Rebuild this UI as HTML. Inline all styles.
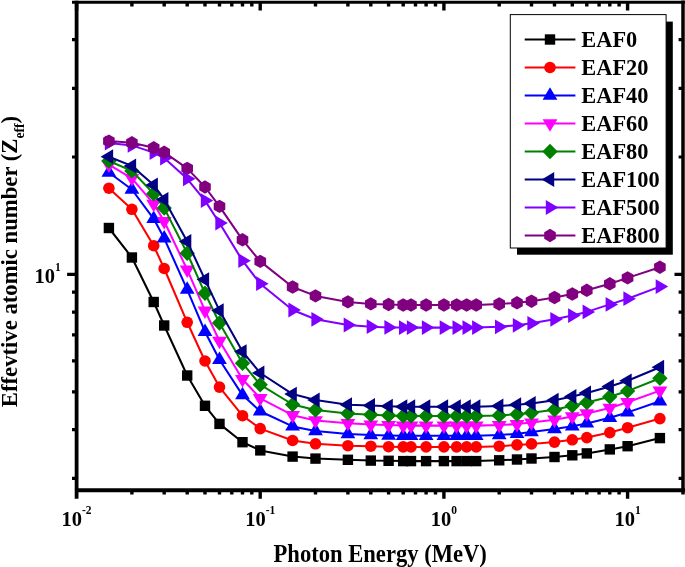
<!DOCTYPE html>
<html><head><meta charset="utf-8"><title>Effective atomic number vs photon energy</title>
<style>html,body{margin:0;padding:0;background:#fff}svg{display:block}</style>
</head><body>
<svg width="685" height="567" viewBox="0 0 685 567" font-family="'Liberation Serif', serif" font-weight="bold">
<rect width="685" height="567" fill="#fff"/>
<g><polyline points="108.9,228 131.9,257.5 153.7,302 164.2,325.5 187.2,375.5 205,405.8 219.5,423.9 242.5,442.2 260.2,450.4 292.6,456.6 315.5,458.6 347.9,459.8 370.8,460.6 388.6,460.8 403.2,461.1 411,461.1 426.1,461.1 443.9,461.1 456.6,461.1 466.6,461.1 476.2,461.1 499.2,460.3 517,459.5 531.5,458.5 554.5,457 572.3,455.3 586.8,453.4 609.8,449.4 627.6,446.2 659.9,438.1" fill="none" stroke="#000000" stroke-width="2.05" stroke-linejoin="round"/>
<rect x="103.7" y="222.8" width="10.4" height="10.4" fill="#000000"/>
<rect x="126.7" y="252.3" width="10.4" height="10.4" fill="#000000"/>
<rect x="148.5" y="296.8" width="10.4" height="10.4" fill="#000000"/>
<rect x="159" y="320.3" width="10.4" height="10.4" fill="#000000"/>
<rect x="182" y="370.3" width="10.4" height="10.4" fill="#000000"/>
<rect x="199.8" y="400.6" width="10.4" height="10.4" fill="#000000"/>
<rect x="214.3" y="418.7" width="10.4" height="10.4" fill="#000000"/>
<rect x="237.3" y="437" width="10.4" height="10.4" fill="#000000"/>
<rect x="255.1" y="445.2" width="10.4" height="10.4" fill="#000000"/>
<rect x="287.4" y="451.4" width="10.4" height="10.4" fill="#000000"/>
<rect x="310.3" y="453.4" width="10.4" height="10.4" fill="#000000"/>
<rect x="342.7" y="454.6" width="10.4" height="10.4" fill="#000000"/>
<rect x="365.6" y="455.4" width="10.4" height="10.4" fill="#000000"/>
<rect x="383.4" y="455.6" width="10.4" height="10.4" fill="#000000"/>
<rect x="398" y="455.9" width="10.4" height="10.4" fill="#000000"/>
<rect x="405.8" y="455.9" width="10.4" height="10.4" fill="#000000"/>
<rect x="420.9" y="455.9" width="10.4" height="10.4" fill="#000000"/>
<rect x="438.7" y="455.9" width="10.4" height="10.4" fill="#000000"/>
<rect x="451.4" y="455.9" width="10.4" height="10.4" fill="#000000"/>
<rect x="461.4" y="455.9" width="10.4" height="10.4" fill="#000000"/>
<rect x="471" y="455.9" width="10.4" height="10.4" fill="#000000"/>
<rect x="494" y="455.1" width="10.4" height="10.4" fill="#000000"/>
<rect x="511.8" y="454.3" width="10.4" height="10.4" fill="#000000"/>
<rect x="526.3" y="453.3" width="10.4" height="10.4" fill="#000000"/>
<rect x="549.3" y="451.8" width="10.4" height="10.4" fill="#000000"/>
<rect x="567.1" y="450.1" width="10.4" height="10.4" fill="#000000"/>
<rect x="581.6" y="448.2" width="10.4" height="10.4" fill="#000000"/>
<rect x="604.6" y="444.2" width="10.4" height="10.4" fill="#000000"/>
<rect x="622.4" y="441" width="10.4" height="10.4" fill="#000000"/>
<rect x="654.7" y="432.9" width="10.4" height="10.4" fill="#000000"/>
</g>
<g><polyline points="108.9,188.2 131.9,209.3 153.7,245.7 164.2,268.5 187.2,322.3 205,361 219.5,387.1 242.5,415.7 260.2,428.6 292.6,440.5 315.5,443.8 347.9,445.7 370.8,446.2 388.6,446.7 403.2,446.9 411,446.9 426.1,446.9 443.9,446.9 456.6,446.9 466.6,446.9 476.2,446.9 499.2,446.2 517,444.9 531.5,443.9 554.5,442.1 572.3,439.8 586.8,437.6 609.8,432.6 627.6,427.7 659.9,418.6" fill="none" stroke="#ff0000" stroke-width="2.05" stroke-linejoin="round"/>
<circle cx="108.9" cy="188.2" r="5.8" fill="#ff0000"/>
<circle cx="131.9" cy="209.3" r="5.8" fill="#ff0000"/>
<circle cx="153.7" cy="245.7" r="5.8" fill="#ff0000"/>
<circle cx="164.2" cy="268.5" r="5.8" fill="#ff0000"/>
<circle cx="187.2" cy="322.3" r="5.8" fill="#ff0000"/>
<circle cx="205" cy="361" r="5.8" fill="#ff0000"/>
<circle cx="219.5" cy="387.1" r="5.8" fill="#ff0000"/>
<circle cx="242.5" cy="415.7" r="5.8" fill="#ff0000"/>
<circle cx="260.2" cy="428.6" r="5.8" fill="#ff0000"/>
<circle cx="292.6" cy="440.5" r="5.8" fill="#ff0000"/>
<circle cx="315.5" cy="443.8" r="5.8" fill="#ff0000"/>
<circle cx="347.9" cy="445.7" r="5.8" fill="#ff0000"/>
<circle cx="370.8" cy="446.2" r="5.8" fill="#ff0000"/>
<circle cx="388.6" cy="446.7" r="5.8" fill="#ff0000"/>
<circle cx="403.2" cy="446.9" r="5.8" fill="#ff0000"/>
<circle cx="411" cy="446.9" r="5.8" fill="#ff0000"/>
<circle cx="426.1" cy="446.9" r="5.8" fill="#ff0000"/>
<circle cx="443.9" cy="446.9" r="5.8" fill="#ff0000"/>
<circle cx="456.6" cy="446.9" r="5.8" fill="#ff0000"/>
<circle cx="466.6" cy="446.9" r="5.8" fill="#ff0000"/>
<circle cx="476.2" cy="446.9" r="5.8" fill="#ff0000"/>
<circle cx="499.2" cy="446.2" r="5.8" fill="#ff0000"/>
<circle cx="517" cy="444.9" r="5.8" fill="#ff0000"/>
<circle cx="531.5" cy="443.9" r="5.8" fill="#ff0000"/>
<circle cx="554.5" cy="442.1" r="5.8" fill="#ff0000"/>
<circle cx="572.3" cy="439.8" r="5.8" fill="#ff0000"/>
<circle cx="586.8" cy="437.6" r="5.8" fill="#ff0000"/>
<circle cx="609.8" cy="432.6" r="5.8" fill="#ff0000"/>
<circle cx="627.6" cy="427.7" r="5.8" fill="#ff0000"/>
<circle cx="659.9" cy="418.6" r="5.8" fill="#ff0000"/>
</g>
<g><polyline points="108.9,172.5 131.9,189.5 153.7,218.8 164.2,238.3 187.2,289.6 205,331.7 219.5,359.7 242.5,395.1 260.2,411.2 292.6,426.4 315.5,431 347.9,434 370.8,435 388.6,435.5 403.2,435.8 411,435.8 426.1,435.8 443.9,435.8 456.6,435.8 466.6,435.8 476.2,435.8 499.2,435 517,433.8 531.5,432 554.5,429 572.3,426.3 586.8,423.4 609.8,417.8 627.6,412.4 659.9,401.3" fill="none" stroke="#0000ff" stroke-width="2.05" stroke-linejoin="round"/>
<polygon points="108.9,164.2 116.3,176.7 101.5,176.7" fill="#0000ff"/>
<polygon points="131.9,181.2 139.3,193.7 124.5,193.7" fill="#0000ff"/>
<polygon points="153.7,210.5 161.1,223 146.3,223" fill="#0000ff"/>
<polygon points="164.2,230 171.6,242.5 156.8,242.5" fill="#0000ff"/>
<polygon points="187.2,281.3 194.6,293.8 179.8,293.8" fill="#0000ff"/>
<polygon points="205,323.4 212.4,335.9 197.6,335.9" fill="#0000ff"/>
<polygon points="219.5,351.4 226.9,363.9 212.1,363.9" fill="#0000ff"/>
<polygon points="242.5,386.8 249.9,399.3 235.1,399.3" fill="#0000ff"/>
<polygon points="260.2,402.9 267.6,415.4 252.8,415.4" fill="#0000ff"/>
<polygon points="292.6,418.1 300,430.6 285.2,430.6" fill="#0000ff"/>
<polygon points="315.5,422.7 322.9,435.2 308.1,435.2" fill="#0000ff"/>
<polygon points="347.9,425.7 355.3,438.2 340.5,438.2" fill="#0000ff"/>
<polygon points="370.8,426.7 378.2,439.2 363.4,439.2" fill="#0000ff"/>
<polygon points="388.6,427.2 396,439.7 381.2,439.7" fill="#0000ff"/>
<polygon points="403.2,427.5 410.6,440 395.8,440" fill="#0000ff"/>
<polygon points="411,427.5 418.4,440 403.6,440" fill="#0000ff"/>
<polygon points="426.1,427.5 433.5,440 418.7,440" fill="#0000ff"/>
<polygon points="443.9,427.5 451.3,440 436.5,440" fill="#0000ff"/>
<polygon points="456.6,427.5 464,440 449.2,440" fill="#0000ff"/>
<polygon points="466.6,427.5 474,440 459.2,440" fill="#0000ff"/>
<polygon points="476.2,427.5 483.6,440 468.8,440" fill="#0000ff"/>
<polygon points="499.2,426.7 506.6,439.2 491.8,439.2" fill="#0000ff"/>
<polygon points="517,425.5 524.4,438 509.6,438" fill="#0000ff"/>
<polygon points="531.5,423.7 538.9,436.2 524.1,436.2" fill="#0000ff"/>
<polygon points="554.5,420.7 561.9,433.2 547.1,433.2" fill="#0000ff"/>
<polygon points="572.3,418 579.7,430.5 564.9,430.5" fill="#0000ff"/>
<polygon points="586.8,415.1 594.2,427.6 579.4,427.6" fill="#0000ff"/>
<polygon points="609.8,409.5 617.2,422 602.4,422" fill="#0000ff"/>
<polygon points="627.6,404.1 635,416.6 620.2,416.6" fill="#0000ff"/>
<polygon points="659.9,393 667.3,405.5 652.5,405.5" fill="#0000ff"/>
</g>
<g><polyline points="108.9,164.7 131.9,178.3 153.7,203.9 164.2,221.2 187.2,269.7 205,310.6 219.5,341 242.5,379.2 260.2,398.3 292.6,415.2 315.5,420.5 347.9,423.3 370.8,424.6 388.6,425.1 403.2,425.6 411,425.6 426.1,425.6 443.9,425.6 456.6,425.6 466.6,425.6 476.2,425.6 499.2,425.1 517,424.1 531.5,422.6 554.5,419.7 572.3,416.5 586.8,413.5 609.8,407.9 627.6,402.3 659.9,390.6" fill="none" stroke="#ff00ff" stroke-width="2.05" stroke-linejoin="round"/>
<polygon points="108.9,173 116.3,160.5 101.5,160.5" fill="#ff00ff"/>
<polygon points="131.9,186.6 139.3,174.1 124.5,174.1" fill="#ff00ff"/>
<polygon points="153.7,212.2 161.1,199.7 146.3,199.7" fill="#ff00ff"/>
<polygon points="164.2,229.5 171.6,217 156.8,217" fill="#ff00ff"/>
<polygon points="187.2,278 194.6,265.5 179.8,265.5" fill="#ff00ff"/>
<polygon points="205,318.9 212.4,306.4 197.6,306.4" fill="#ff00ff"/>
<polygon points="219.5,349.3 226.9,336.8 212.1,336.8" fill="#ff00ff"/>
<polygon points="242.5,387.5 249.9,375 235.1,375" fill="#ff00ff"/>
<polygon points="260.2,406.6 267.6,394.1 252.8,394.1" fill="#ff00ff"/>
<polygon points="292.6,423.5 300,411 285.2,411" fill="#ff00ff"/>
<polygon points="315.5,428.8 322.9,416.3 308.1,416.3" fill="#ff00ff"/>
<polygon points="347.9,431.6 355.3,419.1 340.5,419.1" fill="#ff00ff"/>
<polygon points="370.8,432.9 378.2,420.4 363.4,420.4" fill="#ff00ff"/>
<polygon points="388.6,433.4 396,420.9 381.2,420.9" fill="#ff00ff"/>
<polygon points="403.2,433.9 410.6,421.4 395.8,421.4" fill="#ff00ff"/>
<polygon points="411,433.9 418.4,421.4 403.6,421.4" fill="#ff00ff"/>
<polygon points="426.1,433.9 433.5,421.4 418.7,421.4" fill="#ff00ff"/>
<polygon points="443.9,433.9 451.3,421.4 436.5,421.4" fill="#ff00ff"/>
<polygon points="456.6,433.9 464,421.4 449.2,421.4" fill="#ff00ff"/>
<polygon points="466.6,433.9 474,421.4 459.2,421.4" fill="#ff00ff"/>
<polygon points="476.2,433.9 483.6,421.4 468.8,421.4" fill="#ff00ff"/>
<polygon points="499.2,433.4 506.6,420.9 491.8,420.9" fill="#ff00ff"/>
<polygon points="517,432.4 524.4,419.9 509.6,419.9" fill="#ff00ff"/>
<polygon points="531.5,430.9 538.9,418.4 524.1,418.4" fill="#ff00ff"/>
<polygon points="554.5,428 561.9,415.5 547.1,415.5" fill="#ff00ff"/>
<polygon points="572.3,424.8 579.7,412.3 564.9,412.3" fill="#ff00ff"/>
<polygon points="586.8,421.8 594.2,409.3 579.4,409.3" fill="#ff00ff"/>
<polygon points="609.8,416.2 617.2,403.7 602.4,403.7" fill="#ff00ff"/>
<polygon points="627.6,410.6 635,398.1 620.2,398.1" fill="#ff00ff"/>
<polygon points="659.9,398.9 667.3,386.4 652.5,386.4" fill="#ff00ff"/>
</g>
<g><polyline points="108.9,161 131.9,170.9 153.7,193.7 164.2,208.1 187.2,253.2 205,293.3 219.5,323 242.5,363.2 260.2,384.7 292.6,404.5 315.5,410 347.9,413.4 370.8,414.7 388.6,415.4 403.2,416 411,416 426.1,416 443.9,416 456.6,416 466.6,416 476.2,416 499.2,415.4 517,414.2 531.5,412.7 554.5,409.8 572.3,405.7 586.8,402.6 609.8,396.8 627.6,391.1 659.9,378.3" fill="none" stroke="#008000" stroke-width="2.05" stroke-linejoin="round"/>
<polygon points="108.9,153.3 116.6,161 108.9,168.7 101.2,161" fill="#008000"/>
<polygon points="131.9,163.2 139.6,170.9 131.9,178.6 124.2,170.9" fill="#008000"/>
<polygon points="153.7,186 161.4,193.7 153.7,201.4 146,193.7" fill="#008000"/>
<polygon points="164.2,200.4 171.9,208.1 164.2,215.8 156.5,208.1" fill="#008000"/>
<polygon points="187.2,245.5 194.9,253.2 187.2,260.9 179.5,253.2" fill="#008000"/>
<polygon points="205,285.6 212.7,293.3 205,301 197.3,293.3" fill="#008000"/>
<polygon points="219.5,315.3 227.2,323 219.5,330.7 211.8,323" fill="#008000"/>
<polygon points="242.5,355.5 250.2,363.2 242.5,370.9 234.8,363.2" fill="#008000"/>
<polygon points="260.2,377 267.9,384.7 260.2,392.4 252.6,384.7" fill="#008000"/>
<polygon points="292.6,396.8 300.3,404.5 292.6,412.2 284.9,404.5" fill="#008000"/>
<polygon points="315.5,402.3 323.2,410 315.5,417.7 307.8,410" fill="#008000"/>
<polygon points="347.9,405.7 355.6,413.4 347.9,421.1 340.2,413.4" fill="#008000"/>
<polygon points="370.8,407 378.5,414.7 370.8,422.4 363.1,414.7" fill="#008000"/>
<polygon points="388.6,407.7 396.3,415.4 388.6,423.1 380.9,415.4" fill="#008000"/>
<polygon points="403.2,408.3 410.9,416 403.2,423.7 395.5,416" fill="#008000"/>
<polygon points="411,408.3 418.7,416 411,423.7 403.3,416" fill="#008000"/>
<polygon points="426.1,408.3 433.8,416 426.1,423.7 418.4,416" fill="#008000"/>
<polygon points="443.9,408.3 451.6,416 443.9,423.7 436.2,416" fill="#008000"/>
<polygon points="456.6,408.3 464.3,416 456.6,423.7 448.9,416" fill="#008000"/>
<polygon points="466.6,408.3 474.3,416 466.6,423.7 458.9,416" fill="#008000"/>
<polygon points="476.2,408.3 483.9,416 476.2,423.7 468.5,416" fill="#008000"/>
<polygon points="499.2,407.7 506.9,415.4 499.2,423.1 491.5,415.4" fill="#008000"/>
<polygon points="517,406.5 524.7,414.2 517,421.9 509.3,414.2" fill="#008000"/>
<polygon points="531.5,405 539.2,412.7 531.5,420.4 523.8,412.7" fill="#008000"/>
<polygon points="554.5,402.1 562.2,409.8 554.5,417.5 546.8,409.8" fill="#008000"/>
<polygon points="572.3,398 580,405.7 572.3,413.4 564.6,405.7" fill="#008000"/>
<polygon points="586.8,394.9 594.5,402.6 586.8,410.3 579.1,402.6" fill="#008000"/>
<polygon points="609.8,389.1 617.5,396.8 609.8,404.5 602.1,396.8" fill="#008000"/>
<polygon points="627.6,383.4 635.3,391.1 627.6,398.8 619.9,391.1" fill="#008000"/>
<polygon points="659.9,370.6 667.6,378.3 659.9,386 652.2,378.3" fill="#008000"/>
</g>
<g><polyline points="108.9,156.7 131.9,165.9 153.7,185 164.2,199.4 187.2,241.4 205,279.6 219.5,310.6 242.5,351.6 260.2,373 292.6,394.1 315.5,400 347.9,404.7 370.8,405.5 388.6,406.2 403.2,406.7 411,406.7 426.1,406.7 443.9,406.7 456.6,406.7 466.6,406.7 476.2,406.7 499.2,406 517,404.7 531.5,403.5 554.5,400.2 572.3,396.5 586.8,393 609.8,386.4 627.6,380.8 659.9,367.2" fill="none" stroke="#000080" stroke-width="2.05" stroke-linejoin="round"/>
<polygon points="100.6,156.7 113.1,149.3 113.1,164.1" fill="#000080"/>
<polygon points="123.6,165.9 136.1,158.5 136.1,173.3" fill="#000080"/>
<polygon points="145.4,185 157.9,177.6 157.9,192.4" fill="#000080"/>
<polygon points="155.9,199.4 168.4,192 168.4,206.8" fill="#000080"/>
<polygon points="178.8,241.4 191.3,234 191.3,248.8" fill="#000080"/>
<polygon points="196.6,279.6 209.1,272.2 209.1,287" fill="#000080"/>
<polygon points="211.2,310.6 223.7,303.2 223.7,318" fill="#000080"/>
<polygon points="234.1,351.6 246.6,344.2 246.6,359" fill="#000080"/>
<polygon points="251.9,373 264.4,365.6 264.4,380.4" fill="#000080"/>
<polygon points="284.3,394.1 296.8,386.7 296.8,401.5" fill="#000080"/>
<polygon points="307.2,400 319.7,392.6 319.7,407.4" fill="#000080"/>
<polygon points="339.5,404.7 352,397.3 352,412.1" fill="#000080"/>
<polygon points="362.5,405.5 375,398.1 375,412.9" fill="#000080"/>
<polygon points="380.3,406.2 392.8,398.8 392.8,413.6" fill="#000080"/>
<polygon points="394.8,406.7 407.3,399.3 407.3,414.1" fill="#000080"/>
<polygon points="402.7,406.7 415.2,399.3 415.2,414.1" fill="#000080"/>
<polygon points="417.8,406.7 430.3,399.3 430.3,414.1" fill="#000080"/>
<polygon points="435.6,406.7 448.1,399.3 448.1,414.1" fill="#000080"/>
<polygon points="448.3,406.7 460.8,399.3 460.8,414.1" fill="#000080"/>
<polygon points="458.3,406.7 470.8,399.3 470.8,414.1" fill="#000080"/>
<polygon points="467.9,406.7 480.4,399.3 480.4,414.1" fill="#000080"/>
<polygon points="490.9,406 503.4,398.6 503.4,413.4" fill="#000080"/>
<polygon points="508.6,404.7 521.1,397.3 521.1,412.1" fill="#000080"/>
<polygon points="523.2,403.5 535.7,396.1 535.7,410.9" fill="#000080"/>
<polygon points="546.1,400.2 558.6,392.8 558.6,407.6" fill="#000080"/>
<polygon points="563.9,396.5 576.4,389.1 576.4,403.9" fill="#000080"/>
<polygon points="578.5,393 591,385.6 591,400.4" fill="#000080"/>
<polygon points="601.4,386.4 613.9,379 613.9,393.8" fill="#000080"/>
<polygon points="619.2,380.8 631.7,373.4 631.7,388.2" fill="#000080"/>
<polygon points="651.6,367.2 664.1,359.8 664.1,374.6" fill="#000080"/>
</g>
<g><polyline points="108.9,143 131.9,145.4 153.7,152.6 164.2,158 187.2,178.8 205,200.6 219.5,223 242.5,260.7 260.2,283.7 292.6,310 315.5,319.3 347.9,325 370.8,326.7 388.6,327.4 403.2,327.6 411,327.6 426.1,327.6 443.9,327.6 456.6,327.6 466.6,327.6 476.2,327.6 499.2,326.8 517,325.3 531.5,323.3 554.5,319.3 572.3,315.6 586.8,311.9 609.8,304.4 627.6,298.7 659.9,286.6" fill="none" stroke="#8000ff" stroke-width="2.05" stroke-linejoin="round"/>
<polygon points="117.3,143 104.8,135.6 104.8,150.4" fill="#8000ff"/>
<polygon points="140.2,145.4 127.7,138 127.7,152.8" fill="#8000ff"/>
<polygon points="162.1,152.6 149.6,145.2 149.6,160" fill="#8000ff"/>
<polygon points="172.6,158 160.1,150.6 160.1,165.4" fill="#8000ff"/>
<polygon points="195.5,178.8 183,171.4 183,186.2" fill="#8000ff"/>
<polygon points="213.3,200.6 200.8,193.2 200.8,208" fill="#8000ff"/>
<polygon points="227.8,223 215.3,215.6 215.3,230.4" fill="#8000ff"/>
<polygon points="250.8,260.7 238.3,253.3 238.3,268.1" fill="#8000ff"/>
<polygon points="268.6,283.7 256.1,276.3 256.1,291.1" fill="#8000ff"/>
<polygon points="300.9,310 288.4,302.6 288.4,317.4" fill="#8000ff"/>
<polygon points="323.9,319.3 311.4,311.9 311.4,326.7" fill="#8000ff"/>
<polygon points="356.2,325 343.7,317.6 343.7,332.4" fill="#8000ff"/>
<polygon points="379.2,326.7 366.7,319.3 366.7,334.1" fill="#8000ff"/>
<polygon points="396.9,327.4 384.4,320 384.4,334.8" fill="#8000ff"/>
<polygon points="411.5,327.6 399,320.2 399,335" fill="#8000ff"/>
<polygon points="419.3,327.6 406.8,320.2 406.8,335" fill="#8000ff"/>
<polygon points="434.4,327.6 421.9,320.2 421.9,335" fill="#8000ff"/>
<polygon points="452.2,327.6 439.7,320.2 439.7,335" fill="#8000ff"/>
<polygon points="465,327.6 452.5,320.2 452.5,335" fill="#8000ff"/>
<polygon points="475,327.6 462.5,320.2 462.5,335" fill="#8000ff"/>
<polygon points="484.6,327.6 472.1,320.2 472.1,335" fill="#8000ff"/>
<polygon points="507.5,326.8 495,319.4 495,334.2" fill="#8000ff"/>
<polygon points="525.3,325.3 512.8,317.9 512.8,332.7" fill="#8000ff"/>
<polygon points="539.9,323.3 527.4,315.9 527.4,330.7" fill="#8000ff"/>
<polygon points="562.8,319.3 550.3,311.9 550.3,326.7" fill="#8000ff"/>
<polygon points="580.6,315.6 568.1,308.2 568.1,323" fill="#8000ff"/>
<polygon points="595.1,311.9 582.6,304.5 582.6,319.3" fill="#8000ff"/>
<polygon points="618.1,304.4 605.6,297 605.6,311.8" fill="#8000ff"/>
<polygon points="635.9,298.7 623.4,291.3 623.4,306.1" fill="#8000ff"/>
<polygon points="668.2,286.6 655.7,279.2 655.7,294" fill="#8000ff"/>
</g>
<g><polyline points="108.9,141.1 131.9,142.8 153.7,147.8 164.2,152.3 187.2,168.4 205,187 219.5,206.4 242.5,239.8 260.2,261.4 292.6,287 315.5,295.9 347.9,301.9 370.8,303.9 388.6,304.5 403.2,305 411,305 426.1,305 443.9,305 456.6,305 466.6,305 476.2,305 499.2,304 517,302.8 531.5,301.2 554.5,297.5 572.3,294 586.8,290.3 609.8,283.8 627.6,277.9 659.9,267.2" fill="none" stroke="#800080" stroke-width="2.05" stroke-linejoin="round"/>
<polygon points="108.9,134.4 114.7,137.8 114.7,144.4 108.9,147.8 103.1,144.4 103.1,137.8" fill="#800080"/>
<polygon points="131.9,136.1 137.7,139.5 137.7,146.2 131.9,149.5 126.1,146.2 126.1,139.5" fill="#800080"/>
<polygon points="153.7,141.1 159.5,144.5 159.5,151.2 153.7,154.5 147.9,151.2 147.9,144.5" fill="#800080"/>
<polygon points="164.2,145.6 170,149 170,155.7 164.2,159 158.4,155.7 158.4,149" fill="#800080"/>
<polygon points="187.2,161.7 193,165.1 193,171.8 187.2,175.1 181.4,171.8 181.4,165.1" fill="#800080"/>
<polygon points="205,180.3 210.8,183.7 210.8,190.3 205,193.7 199.2,190.3 199.2,183.7" fill="#800080"/>
<polygon points="219.5,199.7 225.3,203.1 225.3,209.8 219.5,213.1 213.7,209.8 213.7,203.1" fill="#800080"/>
<polygon points="242.5,233.1 248.3,236.5 248.3,243.2 242.5,246.5 236.7,243.2 236.7,236.5" fill="#800080"/>
<polygon points="260.2,254.7 266.1,258 266.1,264.8 260.2,268.1 254.4,264.8 254.4,258" fill="#800080"/>
<polygon points="292.6,280.3 298.4,283.6 298.4,290.4 292.6,293.7 286.8,290.4 286.8,283.6" fill="#800080"/>
<polygon points="315.5,289.2 321.3,292.5 321.3,299.2 315.5,302.6 309.7,299.2 309.7,292.5" fill="#800080"/>
<polygon points="347.9,295.2 353.7,298.5 353.7,305.2 347.9,308.6 342.1,305.2 342.1,298.5" fill="#800080"/>
<polygon points="370.8,297.2 376.6,300.5 376.6,307.2 370.8,310.6 365,307.2 365,300.5" fill="#800080"/>
<polygon points="388.6,297.8 394.4,301.1 394.4,307.9 388.6,311.2 382.8,307.9 382.8,301.1" fill="#800080"/>
<polygon points="403.2,298.3 409,301.6 409,308.4 403.2,311.7 397.4,308.4 397.4,301.6" fill="#800080"/>
<polygon points="411,298.3 416.8,301.6 416.8,308.4 411,311.7 405.2,308.4 405.2,301.6" fill="#800080"/>
<polygon points="426.1,298.3 431.9,301.6 431.9,308.4 426.1,311.7 420.3,308.4 420.3,301.6" fill="#800080"/>
<polygon points="443.9,298.3 449.7,301.6 449.7,308.4 443.9,311.7 438.1,308.4 438.1,301.6" fill="#800080"/>
<polygon points="456.6,298.3 462.4,301.6 462.4,308.4 456.6,311.7 450.8,308.4 450.8,301.6" fill="#800080"/>
<polygon points="466.6,298.3 472.4,301.6 472.4,308.4 466.6,311.7 460.8,308.4 460.8,301.6" fill="#800080"/>
<polygon points="476.2,298.3 482,301.6 482,308.4 476.2,311.7 470.4,308.4 470.4,301.6" fill="#800080"/>
<polygon points="499.2,297.3 505,300.6 505,307.4 499.2,310.7 493.4,307.4 493.4,300.6" fill="#800080"/>
<polygon points="517,296.1 522.8,299.4 522.8,306.2 517,309.5 511.2,306.2 511.2,299.4" fill="#800080"/>
<polygon points="531.5,294.5 537.3,297.8 537.3,304.6 531.5,307.9 525.7,304.6 525.7,297.8" fill="#800080"/>
<polygon points="554.5,290.8 560.3,294.1 560.3,300.9 554.5,304.2 548.7,300.9 548.7,294.1" fill="#800080"/>
<polygon points="572.3,287.3 578.1,290.6 578.1,297.4 572.3,300.7 566.5,297.4 566.5,290.6" fill="#800080"/>
<polygon points="586.8,283.6 592.6,286.9 592.6,293.7 586.8,297 581,293.7 581,286.9" fill="#800080"/>
<polygon points="609.8,277.1 615.6,280.4 615.6,287.2 609.8,290.5 604,287.2 604,280.4" fill="#800080"/>
<polygon points="627.6,271.2 633.4,274.5 633.4,281.2 627.6,284.6 621.7,281.2 621.7,274.5" fill="#800080"/>
<polygon points="659.9,260.5 665.7,263.8 665.7,270.6 659.9,273.9 654.1,270.6 654.1,263.8" fill="#800080"/>
</g>
<g stroke="#000" fill="none">
<line x1="76.6" y1="0.8" x2="76.6" y2="498.7" stroke-width="3.8"/>
<line x1="76.6" y1="490.3" x2="685" y2="490.3" stroke-width="4"/>
<line x1="72" y1="2.2" x2="685" y2="2.2" stroke-width="2.9"/>
<line x1="683.0" y1="0.5" x2="683.0" y2="494.4" stroke-width="3.5"/>
<path d="M76.6 2.0V10.5M131.9 490.3V494.4M131.9 2.0V6.5M164.2 490.3V494.4M164.2 2.0V6.5M187.2 490.3V494.4M187.2 2.0V6.5M205 490.3V494.4M205 2.0V6.5M219.5 490.3V494.4M219.5 2.0V6.5M231.8 490.3V494.4M231.8 2.0V6.5M242.5 490.3V494.4M242.5 2.0V6.5M251.8 490.3V494.4M251.8 2.0V6.5M260.2 490.3V498.7M260.2 2.0V10.5M315.5 490.3V494.4M315.5 2.0V6.5M347.9 490.3V494.4M347.9 2.0V6.5M370.8 490.3V494.4M370.8 2.0V6.5M388.6 490.3V494.4M388.6 2.0V6.5M403.2 490.3V494.4M403.2 2.0V6.5M415.5 490.3V494.4M415.5 2.0V6.5M426.1 490.3V494.4M426.1 2.0V6.5M435.5 490.3V494.4M435.5 2.0V6.5M443.9 490.3V498.7M443.9 2.0V10.5M499.2 490.3V494.4M499.2 2.0V6.5M531.5 490.3V494.4M531.5 2.0V6.5M554.5 490.3V494.4M554.5 2.0V6.5M572.3 490.3V494.4M572.3 2.0V6.5M586.8 490.3V494.4M586.8 2.0V6.5M599.1 490.3V494.4M599.1 2.0V6.5M609.8 490.3V494.4M609.8 2.0V6.5M619.1 490.3V494.4M619.1 2.0V6.5M627.6 490.3V498.7M627.6 2.0V10.5" stroke-width="3.4"/>
<path d="M72 478.3H76.6M683.0 478.3H678.6M72 429.6H76.6M683.0 429.6H678.6M72 391.8H76.6M683.0 391.8H678.6M72 360.9H76.6M683.0 360.9H678.6M72 334.8H76.6M683.0 334.8H678.6M72 312.2H76.6M683.0 312.2H678.6M72 292.2H76.6M683.0 292.2H678.6M67.1 274.4H76.6M683.0 274.4H674.5M72 157H76.6M683.0 157H678.6M72 88.3H76.6M683.0 88.3H678.6M72 39.6H76.6M683.0 39.6H678.6" stroke-width="3.2"/>
</g>
<text transform="translate(76.6 525.5) scale(1 1.06)" font-size="20.5" text-anchor="middle">10<tspan font-size="11.5" dy="-10.6">-2</tspan></text>
<text transform="translate(260.2 525.5) scale(1 1.06)" font-size="20.5" text-anchor="middle">10<tspan font-size="11.5" dy="-10.6">-1</tspan></text>
<text transform="translate(443.9 525.5) scale(1 1.06)" font-size="20.5" text-anchor="middle">10<tspan font-size="11.5" dy="-10.6">0</tspan></text>
<text transform="translate(627.6 525.5) scale(1 1.06)" font-size="20.5" text-anchor="middle">10<tspan font-size="11.5" dy="-10.6">1</tspan></text>
<text transform="translate(60.7 282.5) scale(1 1.06)" font-size="20.5" text-anchor="end">10<tspan font-size="11.5" dy="-10.6">1</tspan></text>
<text transform="translate(380.2 561.9) scale(1 1.07)" font-size="22.6" text-anchor="middle">Photon Energy (MeV)</text>
<text transform="translate(17.3 261.6) rotate(-90) scale(1 1.06)" font-size="22.7" text-anchor="middle">Effevtive atomic number (Z<tspan font-size="13.5" dy="6">eff</tspan><tspan dy="-6">)</tspan></text>
<rect x="517" y="21.6" width="155.8" height="233.1" fill="#000"/>
<rect x="510.3" y="14.6" width="155.8" height="233.4" fill="#fff" stroke="#000" stroke-width="1"/>
<line x1="524.7" y1="39.5" x2="575.4" y2="39.5" stroke="#000000" stroke-width="2.05"/>
<rect x="544.8" y="34.3" width="10.4" height="10.4" fill="#000000"/>
<text transform="translate(581.3 47.1) scale(1 1.05)" font-size="22.4">EAF0</text>
<line x1="524.7" y1="67.5" x2="575.4" y2="67.5" stroke="#ff0000" stroke-width="2.05"/>
<circle cx="550" cy="67.5" r="5.8" fill="#ff0000"/>
<text transform="translate(581.3 75.1) scale(1 1.05)" font-size="22.4">EAF20</text>
<line x1="524.7" y1="95.5" x2="575.4" y2="95.5" stroke="#0000ff" stroke-width="2.05"/>
<polygon points="550,87.2 557.4,99.7 542.6,99.7" fill="#0000ff"/>
<text transform="translate(581.3 103.1) scale(1 1.05)" font-size="22.4">EAF40</text>
<line x1="524.7" y1="123.5" x2="575.4" y2="123.5" stroke="#ff00ff" stroke-width="2.05"/>
<polygon points="550,131.8 557.4,119.3 542.6,119.3" fill="#ff00ff"/>
<text transform="translate(581.3 131.1) scale(1 1.05)" font-size="22.4">EAF60</text>
<line x1="524.7" y1="151.5" x2="575.4" y2="151.5" stroke="#008000" stroke-width="2.05"/>
<polygon points="550,143.8 557.7,151.5 550,159.2 542.3,151.5" fill="#008000"/>
<text transform="translate(581.3 159.1) scale(1 1.05)" font-size="22.4">EAF80</text>
<line x1="524.7" y1="179.5" x2="575.4" y2="179.5" stroke="#000080" stroke-width="2.05"/>
<polygon points="541.7,179.5 554.2,172.1 554.2,186.9" fill="#000080"/>
<text transform="translate(581.3 187.1) scale(1 1.05)" font-size="22.4">EAF100</text>
<line x1="524.7" y1="207.5" x2="575.4" y2="207.5" stroke="#8000ff" stroke-width="2.05"/>
<polygon points="558.3,207.5 545.8,200.1 545.8,214.9" fill="#8000ff"/>
<text transform="translate(581.3 215.1) scale(1 1.05)" font-size="22.4">EAF500</text>
<line x1="524.7" y1="235.5" x2="575.4" y2="235.5" stroke="#800080" stroke-width="2.05"/>
<polygon points="550,228.8 555.8,232.2 555.8,238.8 550,242.2 544.2,238.8 544.2,232.2" fill="#800080"/>
<text transform="translate(581.3 243.1) scale(1 1.05)" font-size="22.4">EAF800</text>
</svg>
</body></html>
